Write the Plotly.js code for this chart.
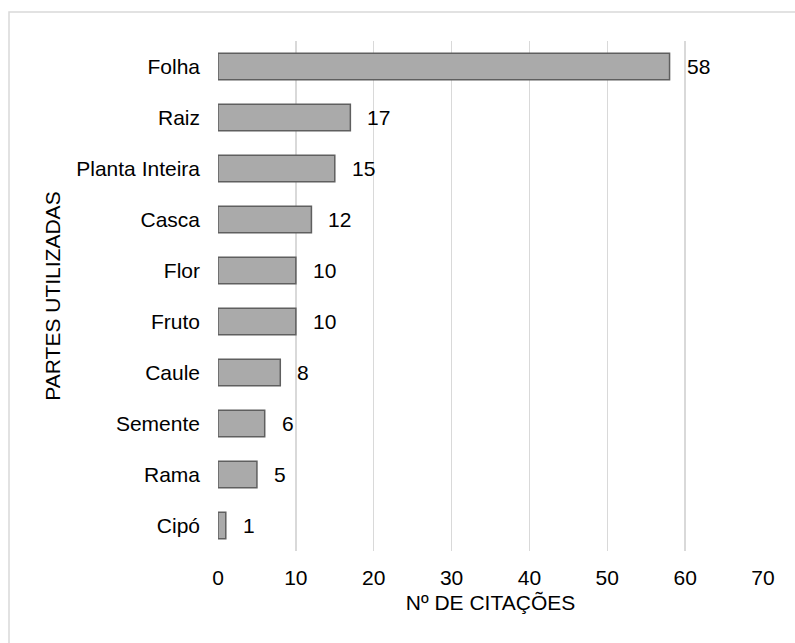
<!DOCTYPE html>
<html>
<head>
<meta charset="utf-8">
<script src="https://cdn.plot.ly/plotly-3.0.1.min.js"></script>
<style>html,body{margin:0;padding:0;background:#fff;}#chart{width:795px;height:643px;}</style>
</head>
<body>
<div id="chart"></div>
<script>
var categories = ["Folha", "Raiz", "Planta Inteira", "Casca", "Flor", "Fruto", "Caule", "Semente", "Rama", "Cipó"];
var citations = [58, 17, 15, 12, 10, 10, 8, 6, 5, 1];
var xTitle = "Nº DE CITAÇÕES";
var yTitle = "PARTES UTILIZADAS";

var FONT = "Liberation Sans, Arial, sans-serif";
var FS = 21;
var annotations = categories.map(function (c, i) {
  return {
    x: citations[i], y: c, xref: "x", yref: "y",
    text: String(citations[i]), showarrow: false,
    xanchor: "left", yanchor: "middle", xshift: 15,
    font: {family: FONT, size: FS, color: "#000"}
  };
});

var trace = {
  type: "bar",
  orientation: "h",
  x: citations,
  y: categories,
  width: 0.52,
  marker: {color: "#aaaaaa", line: {color: "#5f5f5f", width: 1.5}},
  hoverinfo: "none"
};

var layout = {
  width: 795, height: 643,
  margin: {l: 218, r: 32, t: 41, b: 92, pad: 0},
  paper_bgcolor: "#fff", plot_bgcolor: "#fff",
  showlegend: false,
  font: {family: FONT, size: FS, color: "#000"},
  xaxis: {
    range: [0, 70], tickvals: [0, 10, 20, 30, 40, 50, 60, 70],
    showgrid: true, gridcolor: "#d9d9d9", gridwidth: 1.5,
    zeroline: false, showline: false, ticks: "",
    ticklabelstandoff: 12,
    tickfont: {family: FONT, size: FS, color: "#000"},
    title: {text: xTitle, font: {family: FONT, size: FS, color: "#000"}, standoff: 7},
    automargin: false, fixedrange: true
  },
  yaxis: {
    autorange: "reversed",
    showgrid: false, zeroline: false, showline: false, ticks: "",
    ticklabelstandoff: 17,
    tickfont: {family: FONT, size: FS, color: "#000"},
    title: {text: yTitle, font: {family: FONT, size: FS, color: "#000"}, standoff: 9},
    automargin: false, fixedrange: true
  },
  annotations: annotations,
  shapes: [{
    type: "rect", xref: "paper", yref: "paper",
    x0: (9 - 218) / 545, x1: 1.2, y0: -0.4, y1: 1 + (41 - 12) / 510,
    line: {color: "#d9d9d9", width: 1.5}, fillcolor: "rgba(0,0,0,0)", layer: "below"
  }]
};

Plotly.newPlot("chart", [trace], layout, {displayModeBar: false, staticPlot: true});
</script>
</body>
</html>
